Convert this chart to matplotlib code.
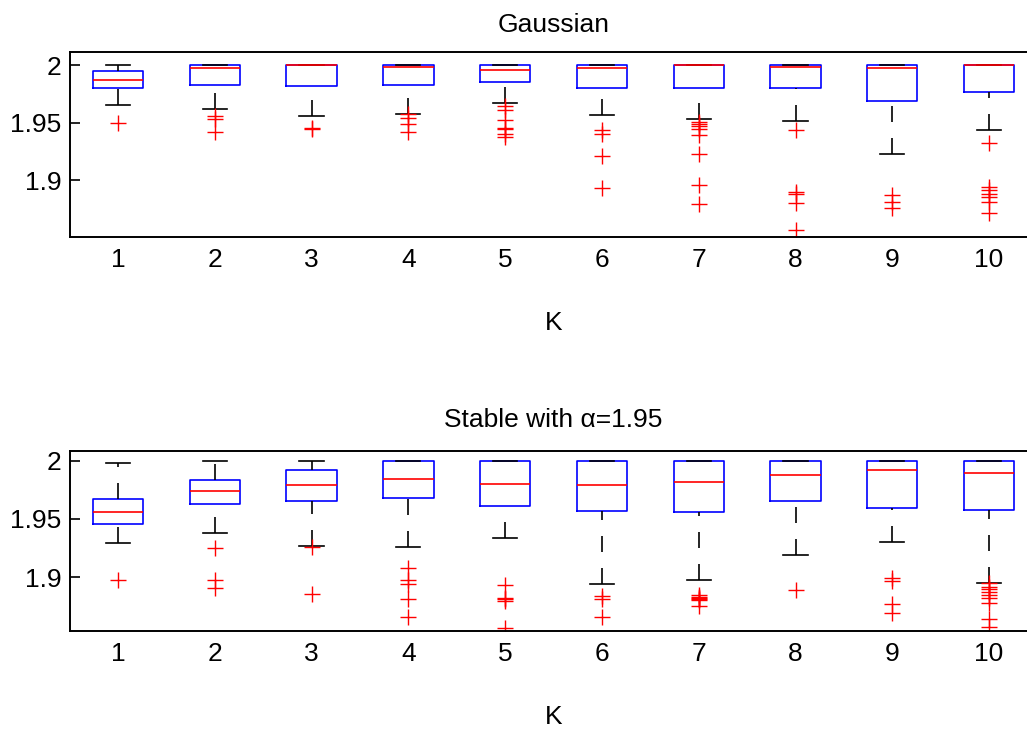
import matplotlib
matplotlib.use('Agg')
import matplotlib.pyplot as plt
from matplotlib.ticker import FuncFormatter

plt.rcParams['font.family'] = ['Liberation Sans', 'DejaVu Sans']

K = [1, 2, 3, 4, 5, 6, 7, 8, 9, 10]

# Gaussian
g_med = [1.9873, 1.9977, 2.0, 1.9986, 1.9957, 1.9977, 2.0, 1.9983, 1.9971, 2.0]
g_q1 = [1.9801, 1.9827, 1.9818, 1.9827, 1.9853, 1.9798, 1.9803, 1.9801, 1.9691, 1.9766]
g_q3 = [1.9945, 2.0, 2.0, 2.0, 2.0, 2.0, 2.0, 2.0, 2.0, 2.0]
g_lo = [1.9650, 1.9621, 1.9555, 1.9578, 1.9670, 1.9569, 1.9529, 1.9517, 1.9231, 1.9436]
g_hi = [2.0, 2.0, 2.0, 2.0, 2.0, 2.0, 2.0, 2.0, 2.0, 2.0]
g_out = [
    [1.9502],
    [1.9555, 1.9535, 1.9419],
    [1.9457, 1.9448],
    [1.9572, 1.9543, 1.9491, 1.9416],
    [1.9642, 1.9607, 1.9520, 1.9457, 1.9445, 1.9405, 1.9376],
    [1.9434, 1.9400, 1.9208, 1.8933],
    [1.9506, 1.9486, 1.9468, 1.9448, 1.9396, 1.9231, 1.8962, 1.8798],
    [1.9439, 1.8899, 1.8884, 1.8803, 1.8572],
    [1.8870, 1.8812, 1.8760],
    [1.9324, 1.8942, 1.8913, 1.8884, 1.8855, 1.8812, 1.8717],
]

# Stable, alpha = 1.95
s_med = [1.9562, 1.9739, 1.9791, 1.9845, 1.9802, 1.9794, 1.9814, 1.9880, 1.9917, 1.9891]
s_q1 = [1.9456, 1.9628, 1.9653, 1.9676, 1.9607, 1.9567, 1.9559, 1.9650, 1.9593, 1.9576]
s_q3 = [1.9670, 1.9837, 1.9920, 2.0, 2.0, 2.0, 2.0, 2.0, 2.0, 2.0]
s_lo = [1.9295, 1.9381, 1.9267, 1.9255, 1.9335, 1.8940, 1.8977, 1.9192, 1.9298, 1.8948]
s_hi = [1.9983, 2.0, 2.0, 2.0, 2.0, 2.0, 2.0, 2.0, 2.0, 2.0]
s_out = [
    [1.8971],
    [1.9252, 1.8974, 1.8903],
    [1.9255, 1.8851],
    [1.9075, 1.8974, 1.8940, 1.8811, 1.8659],
    [1.8931, 1.8822, 1.8808, 1.8791, 1.8565],
    [1.8837, 1.8808, 1.8659],
    [1.8845, 1.8831, 1.8817, 1.8808, 1.8802, 1.8751],
    [1.8891],
    [1.8989, 1.8969, 1.8765, 1.8688],
    [1.8946, 1.8917, 1.8894, 1.8868, 1.8845, 1.8817, 1.8774, 1.8636, 1.8573],
]


def stats(med, q1, q3, lo, hi, out):
    return [dict(med=med[i], q1=q1[i], q3=q3[i], whislo=lo[i], whishi=hi[i],
                 fliers=out[i]) for i in range(len(med))]


def panel(ax, st, title, ylim, tpad):
    lw = 1.2
    res = ax.bxp(st, positions=K, widths=0.52, capwidths=0.25,
                 boxprops=dict(color='blue', lw=lw),
                 medianprops=dict(color='red', lw=lw),
                 whiskerprops=dict(color='black', lw=lw, linestyle=(0, (9.6, 9.6))),
                 capprops=dict(color='black', lw=lw),
                 flierprops=dict(marker='+', markeredgecolor='red', markersize=11,
                                 markeredgewidth=1.0, linestyle='none'))
    # matlab draws lower whiskers from the cap up to the box
    for w in res['whiskers'][0::2]:
        w.set_ydata(w.get_ydata()[::-1])
    ax.set_xlim(0.5, 10.5)
    ax.set_ylim(*ylim)
    ax.set_yticks([1.9, 1.95, 2.0])
    ax.yaxis.set_major_formatter(FuncFormatter(lambda v, p: '%g' % round(v, 4)))
    ax.set_xticks(K)
    ax.set_xticklabels([str(k) for k in K])
    ax.tick_params(axis='y', direction='in', length=7, width=1.2, labelsize=19, pad=6)
    ax.tick_params(axis='x', length=0, labelsize=19, pad=8)
    ax.set_xlabel('K', fontsize=19, labelpad=28)
    ax.set_title(title, fontsize=19, pad=tpad)
    for s in ax.spines.values():
        s.set_linewidth(1.4)


fig = plt.figure(figsize=(10.27, 7.29), dpi=100)
ax1 = fig.add_axes([0.0678, 0.6749, 0.9424, 0.2538])
ax2 = fig.add_axes([0.0678, 0.1344, 0.9424, 0.2470])

panel(ax1, stats(g_med, g_q1, g_q3, g_lo, g_hi, g_out), 'Gaussian', (1.851, 2.0113), 14.5)
panel(ax2, stats(s_med, s_q1, s_q3, s_lo, s_hi, s_out), 'Stable with α=1.95', (1.8536, 2.0083), 17)

fig.savefig('out.png', dpi=100)
